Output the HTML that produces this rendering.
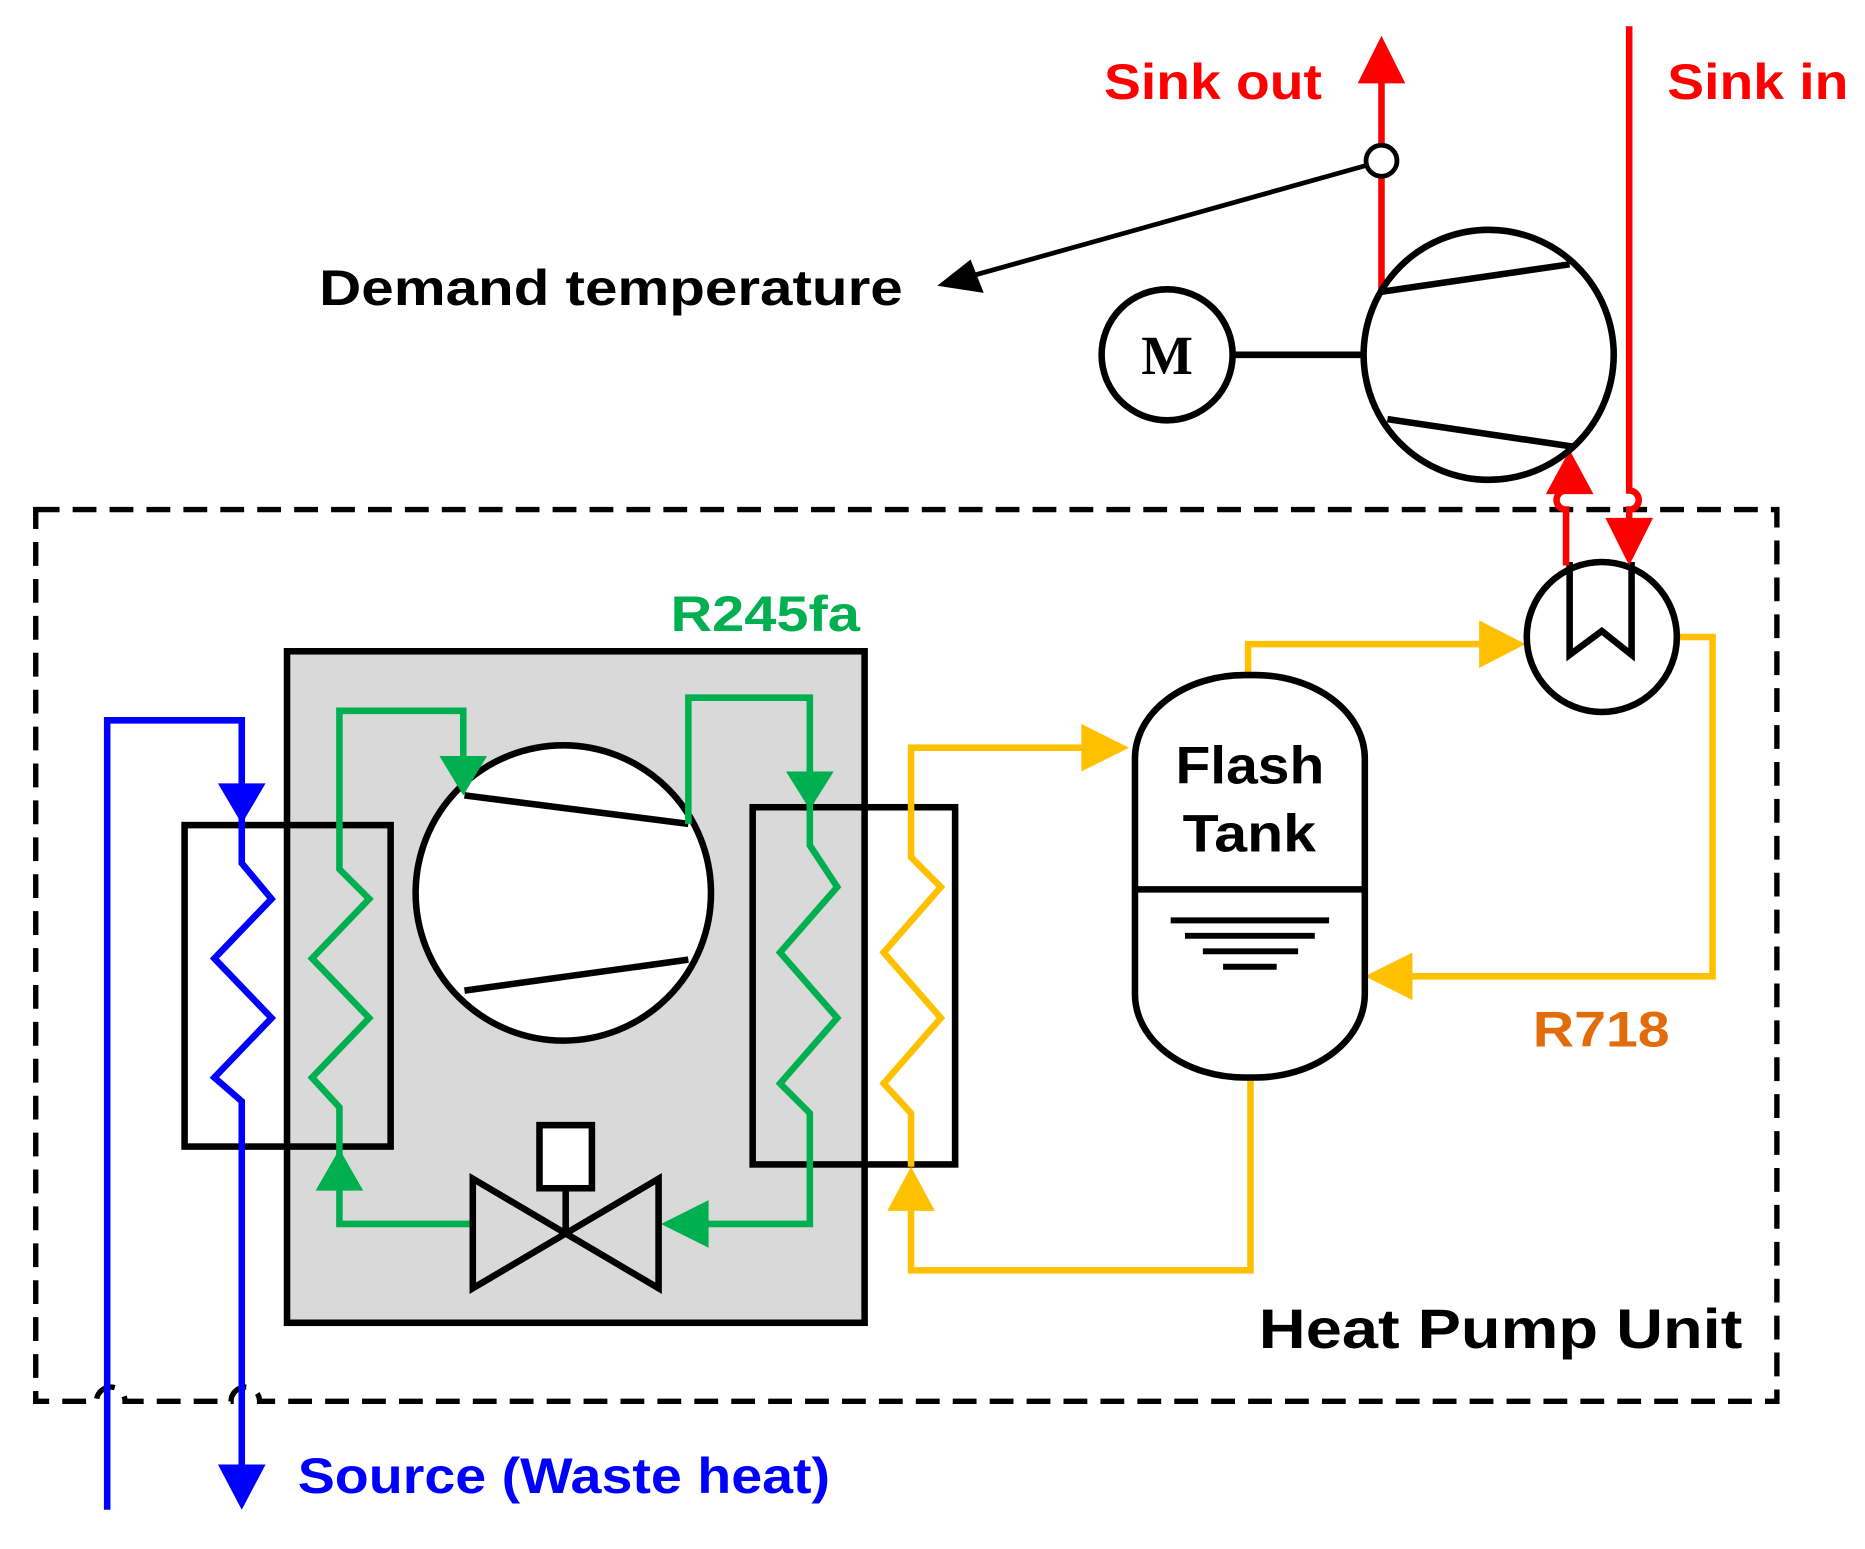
<!DOCTYPE html>
<html><head><meta charset="utf-8"><style>html,body{margin:0;padding:0;background:#fff}svg{display:block}text{font-family:"Liberation Sans",sans-serif;font-weight:bold}</style></head>
<body>
<svg width="1865" height="1549" viewBox="0 0 1566 1301" preserveAspectRatio="none" xmlns="http://www.w3.org/2000/svg">
<path d="M30,428 H1492 V1177 H218 a12,12 0 0 0 -24,0 H105 a12,12 0 0 0 -24,0 H30 Z" fill="none" stroke="#000" stroke-width="4.5" stroke-dasharray="20,11"/>
<rect x="241" y="547" width="485" height="564" fill="#d9d9d9" stroke="#000" stroke-width="5.5"/>
<rect x="155" y="693" width="173" height="270" fill="none" stroke="#000" stroke-width="5.5"/>
<rect x="632" y="678" width="170" height="300" fill="none" stroke="#000" stroke-width="5.5"/>
<circle cx="473" cy="750" r="124" fill="#fff" stroke="#000" stroke-width="5.5"/>
<line x1="390" y1="668" x2="578" y2="692" stroke="#000" stroke-width="5.5"/>
<line x1="390" y1="832" x2="578" y2="806" stroke="#000" stroke-width="5.5"/>
<polyline points="90,1268 90,605 203,605 203,690" fill="none" stroke="#0000ff" stroke-width="5.5"/>
<polygon points="183,658 223,658 203,692" fill="#0000ff"/>
<polyline points="203,690 203,725 228,755 180,805 228,855 180,905 203,925 203,1235" fill="none" stroke="#0000ff" stroke-width="5.5"/>
<polygon points="183,1230 223,1230 203,1268" fill="#0000ff"/>
<polyline points="389,640 389,597 285,597 285,730 310,755 262,805 310,855 262,905 285,930 285,1028 397,1028" fill="none" stroke="#00b050" stroke-width="5.5"/>
<polygon points="369,635 409,635 389,668" fill="#00b050"/>
<polygon points="265,1000 305,1000 285,965" fill="#00b050"/>
<polyline points="578,692 578,586 680,586 680,710 703,745 655,800 703,855 655,910 680,935 680,1028 590,1028" fill="none" stroke="#00b050" stroke-width="5.5"/>
<polygon points="660,648 700,648 680,680" fill="#00b050"/>
<polygon points="595,1008 595,1048 555,1028" fill="#00b050"/>
<polygon points="397,990 397,1082 475,1036" fill="none" stroke="#000" stroke-width="5.5"/>
<polygon points="553,990 553,1082 475,1036" fill="none" stroke="#000" stroke-width="5.5"/>
<line x1="475" y1="1036" x2="475" y2="998" stroke="#000" stroke-width="5.5"/>
<rect x="453" y="945" width="44" height="53" fill="#fff" stroke="#000" stroke-width="5.5"/>
<polyline points="1050,905 1050,1067 765,1067 765,1015" fill="none" stroke="#ffc000" stroke-width="5.5"/>
<polygon points="745,1017 785,1017 765,980" fill="#ffc000"/>
<polyline points="765,980 765,935 742,910 790,855 742,800 790,745 765,720 765,628 910,628" fill="none" stroke="#ffc000" stroke-width="5.5"/>
<polygon points="908,608 908,648 948,628" fill="#ffc000"/>
<polyline points="1048,567 1048,541 1245,541" fill="none" stroke="#ffc000" stroke-width="5.5"/>
<polygon points="1242,521 1242,561 1281,541" fill="#ffc000"/>
<polyline points="1408,535 1438,535 1438,820 1185,820" fill="none" stroke="#ffc000" stroke-width="5.5"/>
<polygon points="1186,800 1186,840 1146,820" fill="#ffc000"/>
<rect x="953" y="567" width="193" height="338" rx="92" ry="70" fill="#fff" stroke="#000" stroke-width="5.5"/>
<line x1="953" y1="747" x2="1146" y2="747" stroke="#000" stroke-width="5.5"/>
<line x1="983" y1="773" x2="1116" y2="773" stroke="#000" stroke-width="5"/>
<line x1="995" y1="786" x2="1104" y2="786" stroke="#000" stroke-width="5"/>
<line x1="1010" y1="799" x2="1090" y2="799" stroke="#000" stroke-width="5"/>
<line x1="1027" y1="812" x2="1072" y2="812" stroke="#000" stroke-width="5"/>
<text x="987" y="658" font-size="44" textLength="125" lengthAdjust="spacingAndGlyphs">Flash</text>
<text x="993" y="715" font-size="44" textLength="112" lengthAdjust="spacingAndGlyphs">Tank</text>
<circle cx="1345" cy="535" r="63" fill="#fff" stroke="#000" stroke-width="5.5"/>
<polyline points="1318,472 1318,550 1345,530 1370,550 1370,472" fill="none" stroke="#000" stroke-width="5.5"/>
<path d="M1368,22 V412 a8,8 0 0 1 0,16 V440" fill="none" stroke="#ff0000" stroke-width="5.5"/>
<polygon points="1348,435 1388,435 1368,475" fill="#ff0000"/>
<path d="M1315,475 V428 a8,8 0 0 1 0,-16 V412" fill="none" stroke="#ff0000" stroke-width="5.5"/>
<polygon points="1298,415 1338,415 1318,378" fill="#ff0000"/>
<line x1="1160" y1="245" x2="1160" y2="65" stroke="#ff0000" stroke-width="5.5"/>
<polygon points="1140,70 1180,70 1160,30" fill="#ff0000"/>
<circle cx="1160" cy="135" r="13" fill="#fff" stroke="#000" stroke-width="4"/>
<line x1="1147" y1="139" x2="815" y2="232" stroke="#000" stroke-width="4"/>
<polygon points="787,240 815,218 826,246" fill="#000"/>
<circle cx="1250" cy="298" r="105" fill="none" stroke="#000" stroke-width="5.5"/>
<line x1="1160" y1="245" x2="1318" y2="222" stroke="#000" stroke-width="5.5"/>
<line x1="1165" y1="352" x2="1320" y2="375" stroke="#000" stroke-width="5.5"/>
<circle cx="980" cy="298" r="55" fill="#fff" stroke="#000" stroke-width="5.5"/>
<line x1="1035" y1="298" x2="1145" y2="298" stroke="#000" stroke-width="5.5"/>
<text x="980" y="314" font-size="46" text-anchor="middle" style="font-family:'Liberation Serif',serif">M</text>
<text x="927" y="83" font-size="42" fill="#ff0000" textLength="183" lengthAdjust="spacingAndGlyphs">Sink out</text>
<text x="1400" y="83" font-size="42" fill="#ff0000" textLength="152" lengthAdjust="spacingAndGlyphs">Sink in</text>
<text x="268" y="256" font-size="42" textLength="490" lengthAdjust="spacingAndGlyphs">Demand temperature</text>
<text x="563" y="530" font-size="42" fill="#00b050" textLength="159" lengthAdjust="spacingAndGlyphs">R245fa</text>
<text x="1287" y="879" font-size="42" fill="#e36c0a" textLength="115" lengthAdjust="spacingAndGlyphs">R718</text>
<text x="1057" y="1132" font-size="47" textLength="406" lengthAdjust="spacingAndGlyphs">Heat Pump Unit</text>
<text x="250" y="1254" font-size="42" fill="#0000ff" textLength="447" lengthAdjust="spacingAndGlyphs">Source (Waste heat)</text>
</svg>
</body></html>
